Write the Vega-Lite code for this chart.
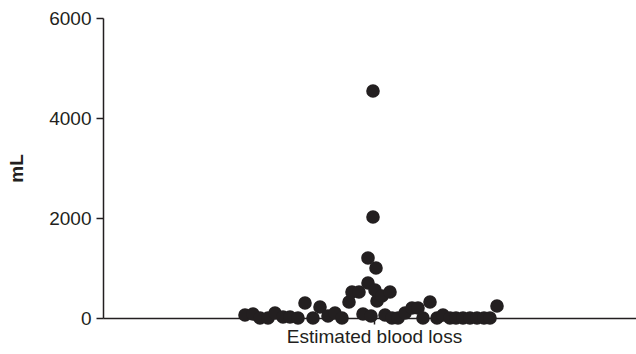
{
  "$schema": "https://vega.github.io/schema/vega-lite/v6.json",
  "width": 533,
  "height": 300,
  "autosize": {"type": "none"},
  "padding": {"left": 103, "top": 18, "right": 0, "bottom": 36},
  "background": "white",
  "config": {"view": {"stroke": null}, "font": "Liberation Sans"},
  "data": {"values": [
    {"offset": -129, "mL": 60}, {"offset": -121, "mL": 80}, {"offset": -114, "mL": 0},
    {"offset": -106, "mL": 0}, {"offset": -99, "mL": 100}, {"offset": -91, "mL": 20},
    {"offset": -84, "mL": 20}, {"offset": -76, "mL": 0}, {"offset": -69, "mL": 300},
    {"offset": -61, "mL": 0}, {"offset": -54, "mL": 220}, {"offset": -46, "mL": 40},
    {"offset": -39, "mL": 100}, {"offset": -32, "mL": 0}, {"offset": -25, "mL": 320},
    {"offset": -22, "mL": 520}, {"offset": -15, "mL": 520}, {"offset": -11, "mL": 80},
    {"offset": -6, "mL": 700}, {"offset": -6, "mL": 1200}, {"offset": -3, "mL": 40},
    {"offset": -1, "mL": 4540}, {"offset": -1, "mL": 2020}, {"offset": 2, "mL": 1000},
    {"offset": 3, "mL": 340}, {"offset": 1, "mL": 560}, {"offset": 8, "mL": 440},
    {"offset": 11, "mL": 60}, {"offset": 16, "mL": 520}, {"offset": 18, "mL": 0},
    {"offset": 24, "mL": 0}, {"offset": 31, "mL": 100}, {"offset": 38, "mL": 200},
    {"offset": 44, "mL": 200}, {"offset": 49, "mL": 0}, {"offset": 56, "mL": 320},
    {"offset": 63, "mL": 0}, {"offset": 69, "mL": 60}, {"offset": 76, "mL": 0},
    {"offset": 82, "mL": 0}, {"offset": 89, "mL": 0}, {"offset": 96, "mL": 0},
    {"offset": 103, "mL": 0}, {"offset": 110, "mL": 0}, {"offset": 116, "mL": 0},
    {"offset": 123, "mL": 240}
  ]},
  "mark": {"type": "circle", "size": 185, "color": "#231f20", "opacity": 1},
  "encoding": {
    "x": {
      "field": "offset", "type": "quantitative",
      "scale": {"domain": [-271, 262], "nice": false, "zero": false},
      "axis": {
        "values": [0], "labelExpr": "'Estimated blood loss'", "title": null,
        "grid": false, "domainColor": "#231f20", "domainWidth": 1.5,
        "tickColor": "#231f20", "tickWidth": 1.5, "tickSize": 6,
        "labelFontSize": 19, "labelColor": "#231f20", "labelPadding": 3
      }
    },
    "y": {
      "field": "mL", "type": "quantitative",
      "scale": {"domain": [0, 6000], "nice": false},
      "axis": {
        "values": [0, 2000, 4000, 6000], "format": "d", "title": "mL", "grid": false,
        "domainColor": "#231f20", "domainWidth": 1.5,
        "tickColor": "#231f20", "tickWidth": 1.5, "tickSize": 7,
        "labelFontSize": 19, "labelColor": "#231f20", "labelPadding": 5,
        "titleFontSize": 19, "titleFontWeight": "bold", "titleColor": "#231f20",
        "titlePadding": 22
      }
    }
  }
}
